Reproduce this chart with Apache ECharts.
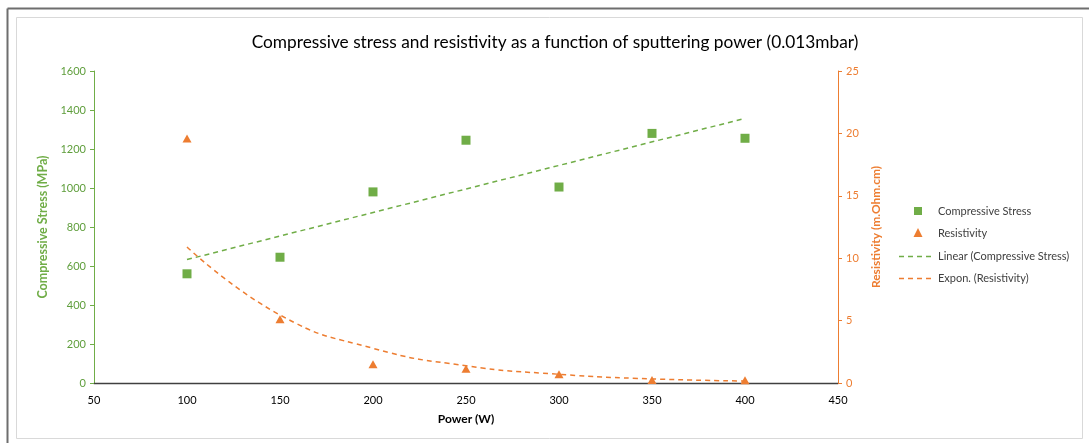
<!DOCTYPE html>
<html>
<head>
<meta charset="utf-8">
<script src="https://cdn.jsdelivr.net/npm/echarts@6/dist/echarts.min.js"></script>
<style>html,body{margin:0;padding:0;background:#fff;}#c{width:1089px;height:443px;}</style>
</head>
<body>
<div id="c"></div>
<script>
// Data
var power = [100, 150, 200, 250, 300, 350, 400];
var compressiveStress = [560, 645, 980, 1245, 1005, 1280, 1255];
var resistivity = [19.6, 5.1, 1.5, 1.15, 0.7, 0.25, 0.22];
// Trendlines as drawn in the reference
var linearTrendX = [100, 400];
var linearTrendY = [633, 1357];
var expTrendX = [100, 150, 200, 250, 300, 350, 400];
var expTrendY = [10.9, 5.45, 2.78, 1.38, 0.70, 0.33, 0.16];
var xTicks = [50, 100, 150, 200, 250, 300, 350, 400, 450];
var legendNames = ['Compressive Stress', 'Resistivity', 'Linear (Compressive Stress)', 'Expon. (Resistivity)'];

function pairs(xs, ys) { return xs.map(function (x, i) { return [x, ys[i]]; }); }

var FONT = 'Lato, "Open Sans", sans-serif';
var GREEN = '#70AD47', ORANGE = '#ED7D31';

// Excel-style legend built with graphic elements
var LX = 899, LY = [211, 233, 256, 278], TX = 938;
var legendGraphics = [
  { type: 'rect', shape: { x: 914, y: LY[0] - 4, width: 8, height: 8 }, style: { fill: GREEN } },
  { type: 'polygon', shape: { points: [[918, LY[1] - 5], [922.5, LY[1] + 4], [913.5, LY[1] + 4]] }, style: { fill: ORANGE } },
  { type: 'line', shape: { x1: LX, y1: LY[2] + 0.5, x2: 933, y2: LY[2] + 0.5 }, style: { stroke: GREEN, lineWidth: 1.5, lineDash: [5, 4] } },
  { type: 'line', shape: { x1: LX, y1: LY[3] + 0.5, x2: 933, y2: LY[3] + 0.5 }, style: { stroke: ORANGE, lineWidth: 1.5, lineDash: [5, 4] } }
];
legendNames.forEach(function (n, i) {
  legendGraphics.push({ type: 'text', x: TX, y: LY[i], style: { text: n, font: '11px ' + FONT, fill: '#404040', textVerticalAlign: 'middle', verticalAlign: 'middle' } });
});

var chart = echarts.init(document.getElementById('c'), null, { renderer: 'canvas' });
chart.setOption({
  backgroundColor: '#ffffff',
  animation: false,
  textStyle: { fontFamily: FONT },
  title: {
    text: 'Compressive stress and resistivity as a function of sputtering power (0.013mbar)',
    left: 550, top: 29, textAlign: 'center',
    textStyle: { fontFamily: FONT, fontSize: 17.3, fontWeight: 'normal', color: '#000' }
  },
  graphic: [
    { type: 'rect', shape: { x: 16.5, y: 17.5, width: 1066, height: 421 }, style: { fill: 'none', stroke: '#d9d9d9', lineWidth: 1 }, silent: true },
    { type: 'line', shape: { x1: 7.5, y1: 8.5, x2: 1089, y2: 8.5 }, style: { stroke: '#6e6e6e', lineWidth: 2 }, silent: true },
    { type: 'line', shape: { x1: 7.5, y1: 8.5, x2: 7.5, y2: 443 }, style: { stroke: '#6e6e6e', lineWidth: 2 }, silent: true },
    { type: 'group', silent: true, children: legendGraphics }
  ],
  legend: { show: false },
  grid: { left: 94, right: 251, top: 71, bottom: 60, containLabel: false },
  xAxis: {
    type: 'value', min: 50, max: 450, interval: 50,
    name: 'Power (W)', nameLocation: 'middle', nameGap: 30,
    nameTextStyle: { fontFamily: FONT, fontSize: 12, fontWeight: 'bold', color: '#000' },
    axisLine: { show: true, lineStyle: { color: '#404040', width: 1.3 } },
    axisTick: { show: false },
    axisLabel: { fontFamily: FONT, fontSize: 11, color: '#000', margin: 12, customValues: xTicks },
    splitLine: { show: false }
  },
  yAxis: [
    {
      type: 'value', min: 0, max: 1600, interval: 200, position: 'left',
      name: 'Compressive Stress (MPa)', nameLocation: 'middle', nameGap: 33, nameRotate: 90,
      nameTextStyle: { fontFamily: FONT, fontSize: 12.5, fontWeight: 'bold', color: GREEN },
      axisLine: { show: true, lineStyle: { color: GREEN, width: 1 } },
      axisTick: { show: true, length: 4, lineStyle: { color: GREEN } },
      axisLabel: { fontFamily: FONT, fontSize: 11, color: '#5f9e3c', margin: 8, formatter: function (v) { return String(v); } },
      splitLine: { show: false }
    },
    {
      type: 'value', min: 0, max: 25, interval: 5, position: 'right',
      name: 'Resistivity (m.Ohm.cm)', nameLocation: 'middle', nameGap: 28, nameRotate: 90,
      nameTextStyle: { fontFamily: FONT, fontSize: 12, fontWeight: 'bold', color: ORANGE },
      axisLine: { show: true, lineStyle: { color: ORANGE, width: 1 } },
      axisTick: { show: true, length: 4, lineStyle: { color: ORANGE } },
      axisLabel: { fontFamily: FONT, fontSize: 11, color: ORANGE, margin: 8 },
      splitLine: { show: false }
    }
  ],
  series: [
    {
      name: 'Linear (Compressive Stress)', type: 'line', yAxisIndex: 0,
      data: pairs(linearTrendX, linearTrendY), symbol: 'none', z: 1,
      lineStyle: { color: GREEN, width: 1.5, type: [5, 4] }, itemStyle: { color: GREEN }
    },
    {
      name: 'Expon. (Resistivity)', type: 'line', yAxisIndex: 1,
      data: pairs(expTrendX, expTrendY), symbol: 'none', smooth: true, z: 1,
      lineStyle: { color: ORANGE, width: 1.5, type: [5, 4] }, itemStyle: { color: ORANGE }
    },
    {
      name: 'Compressive Stress', type: 'scatter', yAxisIndex: 0,
      data: pairs(power, compressiveStress), symbol: 'rect', symbolSize: 9, z: 3,
      itemStyle: { color: GREEN, opacity: 1 }
    },
    {
      name: 'Resistivity', type: 'scatter', yAxisIndex: 1,
      data: pairs(power, resistivity), symbol: 'triangle', symbolSize: [9, 8], z: 3,
      itemStyle: { color: ORANGE, opacity: 1 }
    }
  ]
});
</script>
</body>
</html>
